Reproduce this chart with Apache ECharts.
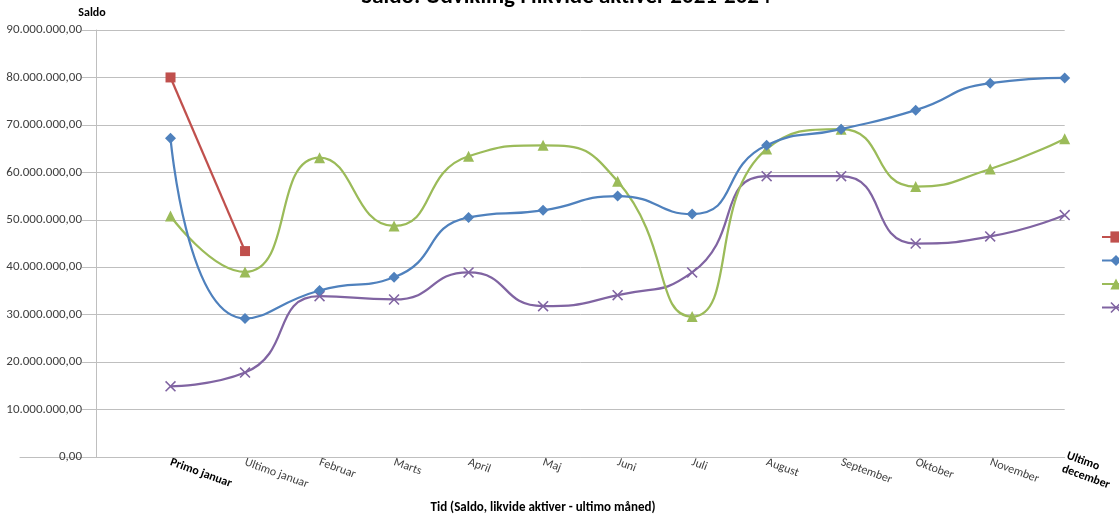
<!DOCTYPE html>
<html>
<head>
<meta charset="utf-8">
<script src="https://cdn.jsdelivr.net/npm/echarts@6/dist/echarts.min.js"></script>
<style>
html,body{margin:0;padding:0;background:#fff;}
#chart{width:1119px;height:519px;}
</style>
</head>
<body>
<div id="chart"></div>
<script>
var categories = ['Primo januar','Ultimo januar','Februar','Marts','April','Maj','Juni','Juli','August','September','Oktober','November','Ultimo december'];
var boldCategories = ['Primo januar','Ultimo december'];
var wrappedCategories = ['Ultimo december'];
var seriesNames = ['2024','2023','2022','2021'];
var red2024 = [80.0, 43.4];
var blue2023 = [67.2, 29.2, 35.1, 37.9, 50.5, 52.0, 55.0, 51.2, 65.7, 69.1, 73.1, 78.8, 79.9];
var green2022 = [50.8, 39.0, 63.1, 48.7, 63.4, 65.7, 58.1, 29.6, 64.9, 69.1, 57.0, 60.7, 67.1];
var purple2021 = [14.9, 17.8, 33.9, 33.2, 38.9, 31.8, 34.1, 38.9, 59.2, 59.2, 45.0, 46.5, 51.0];
var yTicks = [0,10,20,30,40,50,60,70,80,90]; // millions

var FONT = 'Carlito, "Liberation Sans Narrow", "Liberation Sans", Arial, sans-serif';
var MIO = 1000000;

function toVals(arr){
  return [null].concat(arr.map(function(v){ return v * MIO; }));
}
function danish(v){
  var s = Math.round(v).toString().replace(/\B(?=(\d{3})+(?!\d))/g, '.');
  return s + ',00';
}
var xData = [''].concat(categories);
var crossPath = 'path://M0,1 L1,0 L5,4 L9,0 L10,1 L6,5 L10,9 L9,10 L5,6 L1,10 L0,9 L4,5 Z';

var colors = ['#C0504D','#4F81BD','#9BBB59','#8064A2'];
var symbols = ['rect','diamond','triangle',crossPath];
var symbolSizes = [10,11,11,11];
var datas = [red2024, blue2023, green2022, purple2021];

var series = datas.map(function(d,i){
  return {
    name: seriesNames[i],
    type: 'line',
    xAxisIndex: 0, yAxisIndex: 0,
    data: toVals(d),
    smooth: i === 0 ? false : 0.55,
    symbol: symbols[i],
    symbolSize: symbolSizes[i],
    showSymbol: true,
    connectNulls: false,
    lineStyle: {color: colors[i], width: 2.25},
    itemStyle: {color: colors[i]},
    emphasis: {disabled: true},
    z: 10 - i
  };
});

var chart = echarts.init(document.getElementById('chart'));
chart.setOption({
  animation: false,
  title: [
    {text: 'Saldo: Udvikling i likvide aktiver 2021-2024', left: 566, top: -14, textAlign: 'center', padding: 0,
     textStyle: {fontFamily: FONT, fontSize: 23, fontWeight: 'bold', color: '#000'}},
    {text: 'Saldo', left: 92, top: 7, textAlign: 'center', padding: 0,
     textStyle: {fontFamily: FONT, fontSize: 12, fontWeight: 'bold', color: '#000'}},
    {text: 'Tid (Saldo, likvide aktiver - ultimo måned)', left: 543, top: 501, textAlign: 'center', padding: 0,
     textStyle: {fontFamily: FONT, fontSize: 13, fontWeight: 'bold', color: '#000'}}
  ],
  legend: {
    orient: 'vertical', left: 1101, top: 230, padding: 0,
    itemWidth: 28, itemHeight: 14, itemGap: 9.5,
    data: seriesNames,
    textStyle: {fontFamily: FONT, fontSize: 11, color: '#404040', lineHeight: 14}
  },
  grid: [
    {left: 96, right: 42, top: 30, bottom: 62, containLabel: false},
    {left: 20, width: 76, top: 30, bottom: 62, containLabel: false}
  ],
  xAxis: [
    {
      type: 'category', gridIndex: 0, data: xData, boundaryGap: false,
      axisLine: {lineStyle: {color: '#BFBFBF', width: 1}},
      axisTick: {show: false},
      splitLine: {show: false},
      axisLabel: {
        interval: 0, rotate: -20, margin: 5,
        fontFamily: FONT, fontSize: 12, color: '#404040',
        formatter: function(v){
          var t = wrappedCategories.indexOf(v) >= 0 ? v.replace(' ', '\n') : v;
          if (boldCategories.indexOf(v) >= 0) {
            return '{b|' + t + '}';
          }
          return t;
        },
        rich: {b: {fontFamily: FONT, fontSize: 12, fontWeight: 'bold', color: '#000', lineHeight: 14}}
      }
    },
    {
      type: 'value', gridIndex: 1, min: 0, max: 1,
      axisLine: {show: true, lineStyle: {color: '#BFBFBF', width: 1}},
      axisTick: {show: false}, axisLabel: {show: false}, splitLine: {show: false}
    }
  ],
  yAxis: [
    {
      type: 'value', gridIndex: 0, min: 0, max: 90 * MIO, interval: 10 * MIO,
      axisLine: {show: true, lineStyle: {color: '#BFBFBF', width: 1}},
      axisTick: {show: true, length: 14, lineStyle: {color: '#BFBFBF'}},
      splitLine: {show: true, lineStyle: {color: '#BFBFBF', width: 1}},
      axisLabel: {
        margin: 14, fontFamily: FONT, fontSize: 13, color: '#404040',
        formatter: function(v){ return danish(v); }
      }
    },
    {
      type: 'value', gridIndex: 1, show: false, min: 0, max: 1
    }
  ],
  series: series
});
</script>
</body>
</html>
